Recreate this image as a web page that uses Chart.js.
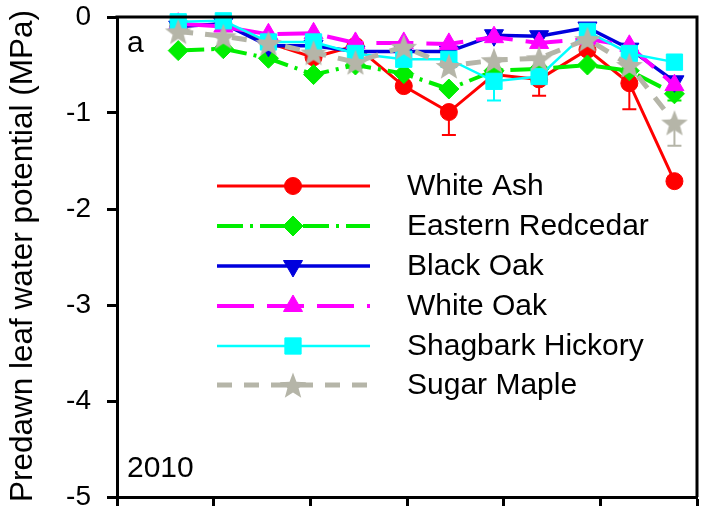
<!DOCTYPE html>
<html>
<head>
<meta charset="utf-8">
<script src="https://cdn.jsdelivr.net/npm/chart.js@4/dist/chart.umd.min.js"></script>
<style>
  html, body { margin: 0; padding: 0; background: #ffffff; }
  #wrap { width: 701px; height: 509px; }
</style>
</head>
<body>
<div id="wrap"><canvas id="c" width="701" height="509"></canvas></div>
<script>
// Sampling dates (day of year) and predawn leaf water potential (MPa), 2010
const sampleDays = [139, 153, 167, 181, 194, 209, 223, 237, 251, 266, 279, 293];

const whiteAsh        = [-0.10, -0.07, -0.27, -0.42, -0.30, -0.72, -0.99, -0.60, -0.65, -0.34, -0.69, -1.71];
const whiteAshErr     = [0, 0, 0, 0, 0, 0, 0.24, 0, 0.17, 0, 0.27, 0];
const redcedar        = [-0.35, -0.33, -0.43, -0.60, -0.50, -0.59, -0.75, -0.56, -0.54, -0.50, -0.56, -0.80];
const redcedarErr     = [0, 0, 0, 0, 0, 0, 0, 0, 0, 0, 0, 0.07];
const blackOak        = [-0.10, -0.07, -0.30, -0.30, -0.36, -0.36, -0.36, -0.19, -0.20, -0.11, -0.33, -0.67];
const blackOakErr     = [0, 0, 0, 0, 0, 0, 0, 0, 0, 0, 0, 0];
const whiteOak        = [-0.07, -0.10, -0.18, -0.17, -0.27, -0.27, -0.28, -0.21, -0.27, -0.23, -0.30, -0.71];
const whiteOakErr     = [0, 0, 0, 0, 0, 0, 0, 0, 0, 0, 0, 0];
const shagbark        = [-0.05, -0.04, -0.26, -0.26, -0.38, -0.44, -0.44, -0.67, -0.62, -0.15, -0.38, -0.47];
const shagbarkErr     = [0, 0, 0, 0, 0, 0, 0, 0.20, 0, 0, 0, 0];
const sugarMaple      = [-0.15, -0.20, -0.27, -0.37, -0.47, -0.31, -0.51, -0.45, -0.43, -0.23, -0.50, -1.10];
const sugarMapleErr   = [0, 0, 0, 0, 0, 0, 0, 0, 0, 0, 0, 0.24];

const speciesNames = ['White Ash', 'Eastern Redcedar', 'Black Oak', 'White Oak', 'Shagbark Hickory', 'Sugar Maple'];
const yTicks = [0, -1, -2, -3, -4, -5];
const xTicks = [120, 150, 180, 210, 240, 270, 300];

const FONT = "'Liberation Sans', Arial, Helvetica, sans-serif";

// filled five-pointed star used as a marker
function starMarker(r, color) {
  const s = Math.ceil(2 * r + 2);
  const c = document.createElement('canvas');
  c.width = s; c.height = s;
  const g = c.getContext('2d');
  g.fillStyle = color;
  g.beginPath();
  for (let i = 0; i < 10; i++) {
    const rr = i % 2 ? r * 0.42 : r;
    const a = -Math.PI / 2 + i * Math.PI / 5;
    g.lineTo(s / 2 + rr * Math.cos(a), s / 2 + 1.5 + rr * Math.sin(a));
  }
  g.closePath();
  g.fill();
  return c;
}

const GRAY = '#b5b5a8';
const star = starMarker(14, GRAY);

function series(label, values, err, color, lineWidth, dash, pointStyle, radius, rotation, order) {
  return {
    label,
    data: sampleDays.map((d, i) => ({ x: d, y: values[i] })),
    err,
    borderColor: color,
    backgroundColor: color,
    borderWidth: lineWidth,
    borderDash: dash,
    pointStyle,
    pointRadius: radius,
    pointHoverRadius: radius,
    pointRotation: rotation,
    pointBorderWidth: 1,
    pointBorderColor: color,
    pointBackgroundColor: color,
    tension: 0,
    clip: false,
    order
  };
}

const datasets = [
  series(speciesNames[0], whiteAsh, whiteAshErr, '#ff0000', 3, [], 'circle', 8.5, 0, 6),
  series(speciesNames[1], redcedar, redcedarErr, '#00ee00', 4, [26, 7, 3, 7], 'rectRot', 10, 0, 5),
  series(speciesNames[2], blackOak, blackOakErr, '#0000dd', 3.5, [], 'triangle', 11, 180, 4),
  series(speciesNames[3], whiteOak, whiteOakErr, '#ff00ff', 4, [37, 13], 'triangle', 11, 0, 3),
  series(speciesNames[4], shagbark, shagbarkErr, '#00ffff', 2.5, [], 'rect', 11.5, 0, 2),
  series(speciesNames[5], sugarMaple, sugarMapleErr, GRAY, 5, [15, 12], star, 14, 0, 1)
];

// one-sided (downward) error bars, drawn beneath each series' markers
const errorBars = {
  id: 'errorBars',
  beforeDatasetDraw(chart, args) {
    const ds = chart.data.datasets[args.index];
    if (!ds.err) return;
    const ys = chart.scales.y, xs = chart.scales.x;
    const ctx = chart.ctx;
    ctx.save();
    ctx.strokeStyle = ds.borderColor;
    ctx.lineWidth = 2;
    ctx.setLineDash([]);
    ds.data.forEach((p, i) => {
      const e = ds.err[i];
      if (!e) return;
      const x = xs.getPixelForValue(p.x);
      const y0 = ys.getPixelForValue(p.y);
      const y1 = ys.getPixelForValue(p.y - e);
      ctx.beginPath();
      ctx.moveTo(x, y0); ctx.lineTo(x, y1);
      ctx.moveTo(x - 7, y1); ctx.lineTo(x + 7, y1);
      ctx.stroke();
    });
    ctx.restore();
  }
};

// frame, axis title, panel labels and legend
const decorations = {
  id: 'decorations',
  afterDraw(chart) {
    const ctx = chart.ctx;
    const a = chart.chartArea;
    ctx.save();
    ctx.strokeStyle = '#000';
    ctx.lineWidth = 3;
    ctx.setLineDash([]);
    ctx.beginPath();
    ctx.moveTo(a.left - 1.5, a.top);
    ctx.lineTo(a.right, a.top);
    ctx.lineTo(a.right, a.bottom);
    ctx.stroke();

    ctx.fillStyle = '#000';
    ctx.textBaseline = 'middle';
    ctx.textAlign = 'left';
    ctx.font = '30px ' + FONT;
    ctx.fillText('a', a.left + 10, 44);
    ctx.fillText('2010', a.left + 10, 469);

    // y-axis title
    ctx.save();
    ctx.translate(23, 256);
    ctx.rotate(-Math.PI / 2);
    ctx.textAlign = 'center';
    ctx.font = '31.5px ' + FONT;
    ctx.fillText('Predawn leaf water potential (MPa)', 0, 0);
    ctx.restore();

    // legend
    const rowY = [186, 226, 266, 306, 346, 385];
    chart.data.datasets.forEach((ds, i) => {
      const y = rowY[i];
      ctx.save();
      ctx.strokeStyle = ds.borderColor;
      ctx.lineWidth = ds.borderWidth;
      ctx.setLineDash(ds.borderDash);
      ctx.beginPath();
      ctx.moveTo(217, y);
      ctx.lineTo(370, y);
      ctx.stroke();
      ctx.setLineDash([]);
      ctx.fillStyle = ds.backgroundColor;
      ctx.strokeStyle = ds.borderColor;
      ctx.lineWidth = 1;
      Chart.helpers.drawPoint(ctx, {
        pointStyle: ds.pointStyle,
        radius: ds.pointRadius,
        rotation: ds.pointRotation,
        borderWidth: 1
      }, 293, y);
      ctx.restore();
      ctx.fillStyle = '#000';
      ctx.font = '30px ' + FONT;
      ctx.textAlign = 'left';
      ctx.fillText(ds.label, 407, y + 1);
    });
    ctx.restore();
  }
};

new Chart(document.getElementById('c'), {
  type: 'line',
  data: { datasets },
  options: {
    responsive: false,
    animation: false,
    devicePixelRatio: 1,
    layout: { autoPadding: false, padding: { left: 0, right: 4, top: 17, bottom: 0 } },
    plugins: { legend: { display: false }, tooltip: { enabled: false } },
    scales: {
      x: {
        type: 'linear',
        min: xTicks[0],
        max: xTicks[xTicks.length - 1],
        afterBuildTicks(scale) { scale.ticks = xTicks.map(v => ({ value: v })); },
        afterFit(scale) {
          scale.height = 12;
          scale.paddingLeft = 0; scale.paddingRight = 0;
          scale.paddingTop = 0; scale.paddingBottom = 0;
        },
        ticks: { display: false },
        grid: { drawOnChartArea: false, drawTicks: true, tickLength: 9, tickWidth: 3, tickColor: '#000' },
        border: { display: true, color: '#000', width: 3 }
      },
      y: {
        type: 'linear',
        min: -5,
        max: 0,
        afterBuildTicks(scale) { scale.ticks = yTicks.map(v => ({ value: v })); },
        afterFit(scale) {
          scale.width = 117;
          scale.paddingTop = 0; scale.paddingBottom = 0;
          scale.paddingLeft = 0; scale.paddingRight = 0;
        },
        ticks: { color: '#000', font: { family: FONT, size: 28 }, padding: 16 },
        grid: { drawOnChartArea: false, drawTicks: true, tickLength: 10, tickWidth: 3, tickColor: '#000' },
        border: { display: true, color: '#000', width: 3 }
      }
    }
  },
  plugins: [errorBars, decorations]
});
</script>
</body>
</html>
